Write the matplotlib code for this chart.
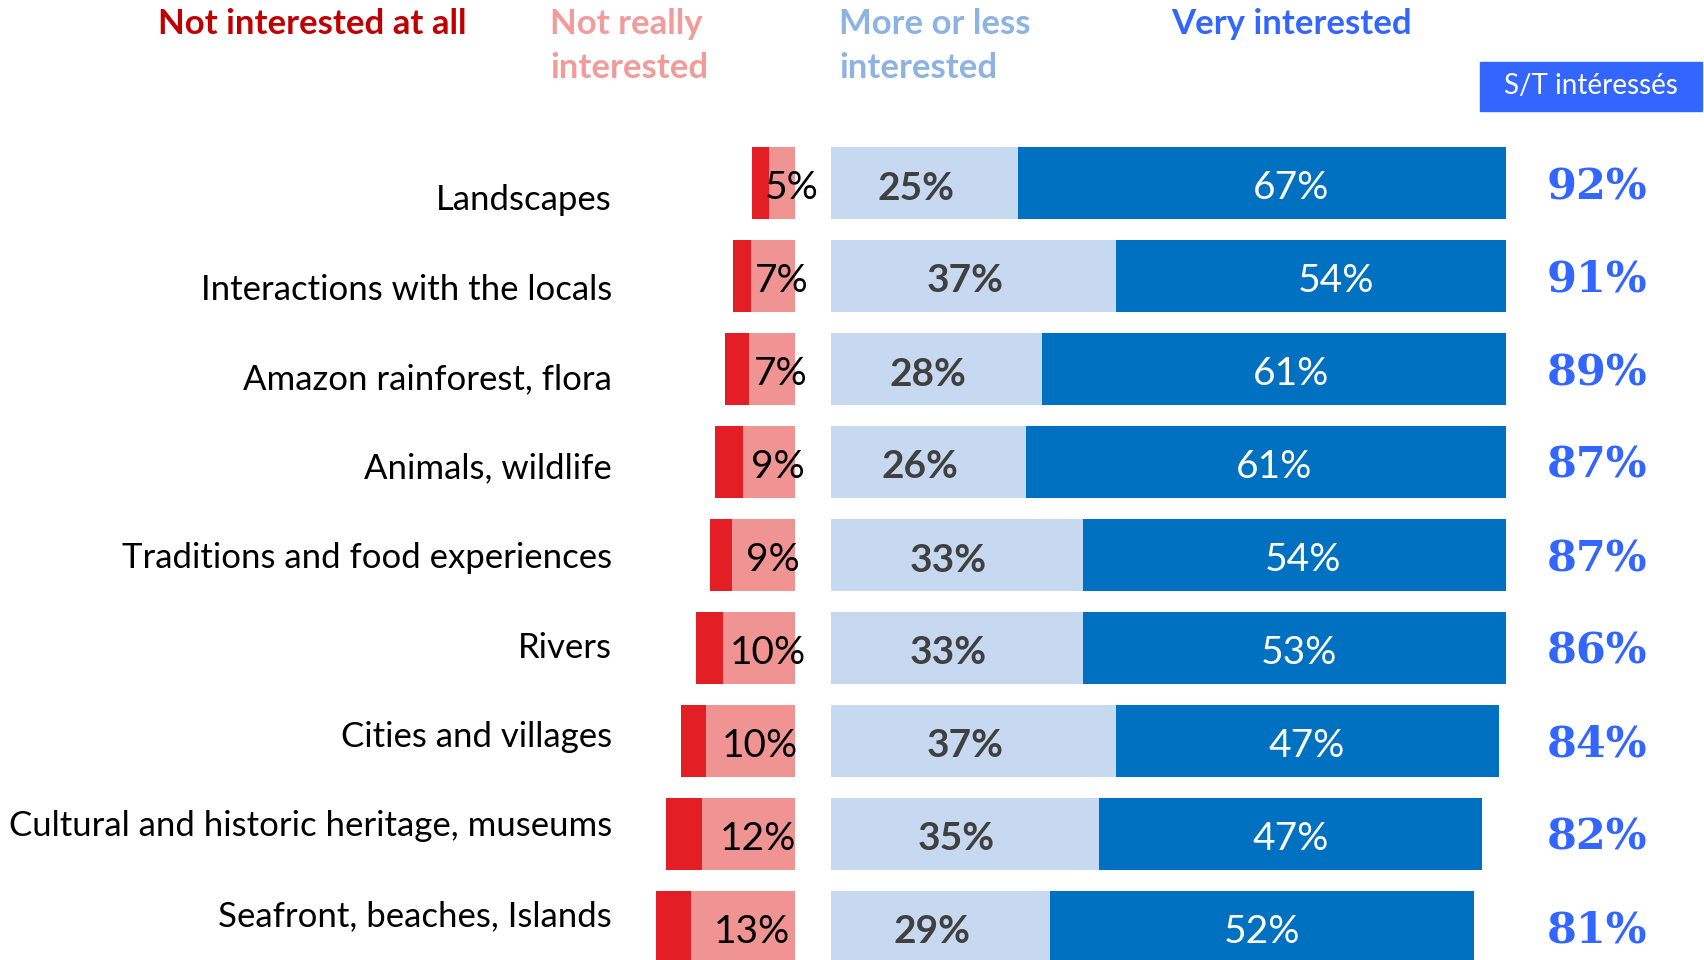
import matplotlib
matplotlib.use("Agg")
import matplotlib.pyplot as plt
from matplotlib.patches import Rectangle
from matplotlib.transforms import offset_copy

# ---------------- data ----------------
categories = [
    "Landscapes",
    "Interactions with the locals",
    "Amazon rainforest, flora",
    "Animals, wildlife",
    "Traditions and food experiences",
    "Rivers",
    "Cities and villages",
    "Cultural and historic heritage, museums",
    "Seafront, beaches, Islands",
]
# bar lengths as drawn
not_at_all = [1.8, 1.9, 2.6, 3.0, 2.4, 2.9, 2.7, 3.9, 3.8]
not_really = [4.8, 6.8, 7.0, 7.6, 8.8, 9.8, 11.6, 12.0, 13.2]
# printed labels
not_really_lbl = [5, 7, 7, 9, 9, 10, 10, 12, 13]
more_or_less = [25, 37, 28, 26, 33, 33, 37, 35, 29]
very = [67, 54, 61, 61, 54, 53, 47, 47, 52]
totals = [92, 91, 89, 87, 87, 86, 84, 82, 81]

header_labels = ["Not interested at all", "Not really\ninterested",
                 "More or less\ninterested", "Very interested"]
box_label = "S/T intéressés"

# ---------------- style ----------------
C_DARKRED = "#E31E24"
C_PINK = "#F09393"
C_LIGHTBLUE = "#C6D9F0"
C_BLUE = "#0070C0"
C_H1 = "#C00000"
C_H2 = "#F29B9B"
C_H3 = "#8DB3E2"
C_H4 = "#3366FF"
C_TOTAL = "#3366FF"

FONT = "Lato"
W, H = 1704, 960
fig = plt.figure(figsize=(W / 100, H / 100), dpi=100)
fig.patch.set_facecolor("white")


def px_axes(x0, x1, y0=0, y1=H):
    """axes given by pixel box (y measured from top)"""
    return fig.add_axes([x0 / W, 1 - y1 / H, (x1 - x0) / W, (y1 - y0) / H])


n = len(categories)
idx = list(range(n))
row0, pitch = 183, 93
ylim_bars = ((H - row0) / pitch, -row0 / pitch)
bar_h = 0.77

# ---- negative side ----
ax_neg = px_axes(600, 795)
ax_neg.barh(idx, [-v for v in not_really], height=bar_h, color=C_PINK, left=0)
ax_neg.barh(idx, [-v for v in not_at_all], height=bar_h, color=C_DARKRED,
            left=[-v for v in not_really])
ax_neg.set_xlim(-23.06, -2.0)
ax_neg.set_ylim(*ylim_bars)
tr_neg = offset_copy(ax_neg.transData, fig=fig, y=-5, units="dots")
for i in idx:
    ax_neg.text(-not_really[i] / 2, i, f"{not_really_lbl[i]}%", ha="center",
                va="center", fontsize=28, color="black", family=FONT,
                clip_on=False, transform=tr_neg)

# ---- positive side ----
ax_pos = px_axes(831, 1506)
ax_pos.barh(idx, more_or_less, height=bar_h, color=C_LIGHTBLUE)
ax_pos.barh(idx, very, height=bar_h, color=C_BLUE, left=more_or_less)
ax_pos.set_xlim(2.1, 84.9)
ax_pos.set_ylim(*ylim_bars)
tr_pos = offset_copy(ax_pos.transData, fig=fig, y=-5, units="dots")
for i in idx:
    ax_pos.text(more_or_less[i] / 2, i, f"{more_or_less[i]}%", ha="center",
                va="center", fontsize=28, fontweight="bold", color="#404040",
                family=FONT, clip_on=False, transform=tr_pos)
    ax_pos.text(more_or_less[i] + very[i] / 2, i, f"{very[i]}%", ha="center",
                va="center", fontsize=28, color="white", family=FONT,
                clip_on=False, transform=tr_pos)

# ---- totals ----
ax_tot = px_axes(1520, 1680)
ax_tot.set_xlim(0, 1)
ax_tot.set_ylim(*ylim_bars)
tr_tot = offset_copy(ax_tot.transData, fig=fig, y=-4, units="dots")
for i in idx:
    ax_tot.text(0.48, i, f"{totals[i]}%", ha="center", va="center",
                fontsize=31, fontweight="bold", color=C_TOTAL,
                family="DejaVu Serif", transform=tr_tot)

# ---- category labels ----
lab0, lab_pitch = 200, 89.5
ax_lab = px_axes(0, 612)
ax_lab.set_xlim(0, 1)
ax_lab.set_ylim((H - lab0) / lab_pitch, -lab0 / lab_pitch)
for i in idx:
    ax_lab.text(1, i, categories[i], ha="right", va="center", fontsize=25,
                color="black", family=FONT)

for ax in (ax_neg, ax_pos, ax_tot, ax_lab):
    ax.axis("off")

# ---- header legend ----
hdr_x = [158, 550, 839, 1171]
hdr_c = [C_H1, C_H2, C_H3, C_H4]
for lab, x, c in zip(header_labels, hdr_x, hdr_c):
    fig.text(x / W, 1 - 7.5 / H, lab, ha="left", va="top", fontsize=25,
             fontweight="bold", color=c, family=FONT, linespacing=1.49)

# ---- S/T box ----
fig.patches.append(Rectangle((1480 / W, 1 - 111 / H), 222 / W, 49 / H,
                             transform=fig.transFigure, color="#3366FF",
                             zorder=0))
fig.text(1591 / W, 1 - 86 / H, box_label, ha="center", va="center",
         fontsize=20, color="white", family=FONT)

fig.savefig("out.png", dpi=100, facecolor="white")
